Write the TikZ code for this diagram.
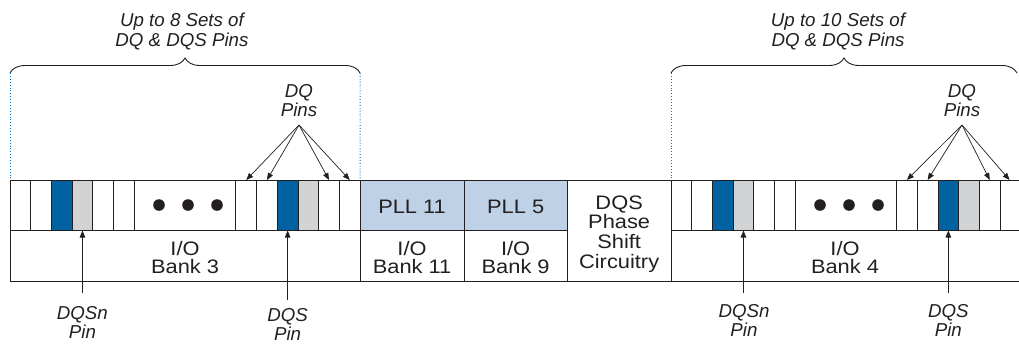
\documentclass[tikz,border=0pt]{standalone}
\usepackage{fontspec}
\setmainfont{Liberation Sans}
\newfontfamily\widesans[FakeStretch=1.12]{Liberation Sans}
\usetikzlibrary{arrows.meta,calc,decorations.pathreplacing}
\definecolor{dqsblue}{RGB}{0,98,160}
\definecolor{dqsngray}{RGB}{209,211,212}
\definecolor{pllblue}{RGB}{191,209,230}
\definecolor{guideblue}{RGB}{0,114,188}
\definecolor{inkgray}{RGB}{35,31,32}

\tikzset{
  wire/.style={draw=inkgray, line width=0.9pt},
  pincell/.style={wire, minimum width=20.7pt, minimum height=50.5pt, inner sep=0pt, outer sep=0pt, anchor=north west},
  dqscell/.style={pincell, fill=dqsblue},
  dqsncell/.style={pincell, fill=dqsngray},
  bankbox/.style={wire, minimum height=50.5pt, inner sep=0pt, outer sep=0pt, anchor=north west, align=center, text=inkgray, font=\widesans\fontsize{19.5}{18.5}\selectfont},
  iobox/.style={bankbox, text height=36.5pt},
  pllbox/.style={bankbox, fill=pllblue, text height=16pt},
  itext/.style={align=center, inner sep=1pt, text=inkgray, font=\fontsize{18.7}{19.5}\selectfont\itshape},
  pinarrow/.style={-{Triangle[length=7pt,width=5.5pt]}, draw=inkgray, line width=0.7pt},
  guide/.style={draw=guideblue, dotted, line width=0.9pt},
  setbrace/.style={draw=inkgray, line width=0.9pt, decorate, decoration={brace, amplitude=15pt}}
}

\begin{document}
\begin{tikzpicture}[x=1pt, y=-1pt]
  \useasboundingbox (0,0) rectangle (1019,343);

  % I/O bank 3
  \begin{scope}
    \foreach \i/\s in {0/pincell,1/pincell,2/dqscell,3/dqsncell,4/pincell,5/pincell} {
      \node[\s] (la\i) at ({10+\i*20.7},180) {};
      \node[\s] (lb\i) at ({235.9+\i*20.7},180) {};
    }
    \node[bankbox, minimum width=101.7pt] (ldots) at (134.2,180) {};
    \foreach \x in {159,188,217}
      \fill[inkgray] (\x,205) circle (5.8pt);
    \node[iobox, minimum width=350.1pt] (bank3) at (10,230.5) {I/O\\Bank 3};
  \end{scope}

  % PLLs and phase shift
  \begin{scope}
    \node[pllbox, minimum width=103.9pt] (pll11) at (360.1,180) {PLL 11};
    \node[pllbox, minimum width=103.3pt] (pll5) at (464,180) {PLL 5};
    \node[iobox, minimum width=103.9pt] (bank11) at (360.1,230.5) {I/O\\Bank 11};
    \node[iobox, minimum width=103.3pt] (bank9) at (464,230.5) {I/O\\Bank 9};
    \node[bankbox, minimum width=103.7pt, minimum height=101pt, text height=79.7pt,
      font=\widesans\fontsize{19.5}{19.7}\selectfont] (dqsps) at (567.3,180) {DQS\\Phase\\Shift\\Circuitry};
  \end{scope}

  % I/O bank 4
  \begin{scope}
    \foreach \i/\s in {0/pincell,1/pincell,2/dqscell,3/dqsncell,4/pincell,5/pincell}
      \node[\s] (ra\i) at ({671+\i*20.7},180) {};
    \foreach \i/\s in {0/pincell,1/pincell,2/dqscell,3/dqsncell,4/pincell}
      \node[\s] (rb\i) at ({896.6+\i*20.7},180) {};
    \node[pincell, draw=none, minimum width=18.9pt] (rb5) at (1000.1,180) {};
    \node[bankbox, minimum width=101.4pt] (rdots) at (795.2,180) {};
    \foreach \x in {820,849,878}
      \fill[inkgray] (\x,205) circle (5.8pt);
    \node[iobox, draw=none, minimum width=348pt] (bank4) at (671,230.5) {I/O\\Bank 4};
    \draw[wire] (rb4.north east) -- (rb5.north east);
    \draw[wire] (ra0.north west) -- (bank4.south west) -- (bank4.south east);
    \draw[wire] (bank4.north west) -- (bank4.north east);
  \end{scope}

  % braces
  \coordinate (lbrl) at (10,73);
  \coordinate (lbrr) at (360.1,73);
  \draw[setbrace] (lbrl) -- (lbrr);
  \draw[guide] (lbrl) -- (la0.north west);
  \draw[guide] (lbrr) -- (lb5.north east);
  \node[itext] (lsets) at (182,31.5) {Up to 8 Sets of\\DQ \& DQS Pins};

  \coordinate (rbrl) at (671,73);
  \coordinate (rbrr) at (1017,73);
  \draw[setbrace] (rbrl) -- (rbrr);
  \draw[guide] (rbrl) -- (ra0.north west);
  \node[itext] (rsets) at (838,31.5) {Up to 10 Sets of\\DQ \& DQS Pins};

  % DQ pins
  \node[itext] (ldqlab) at (299,100.5) {DQ\\Pins};
  \coordinate (ldq) at (299,125);
  \foreach \t in {lb0,lb1,lb4,lb5}
    \draw[pinarrow] (ldq) -- (\t.north);

  \node[itext] (rdqlab) at (962,100.5) {DQ\\Pins};
  \coordinate (rdq) at (962,125);
  \foreach \t in {rb0,rb1,rb4,rb5}
    \draw[pinarrow] (rdq) -- (\t.north);

  % DQS and DQSn pins
  \coordinate (lsn) at ($(la3.south)+(0,62.5)$);
  \draw[pinarrow] (lsn) -- (la3.south);
  \node[itext] (lsnlab) at (82.4,322.5) {DQSn\\Pin};

  \coordinate (ls) at ($(lb2.south)+(0,69.5)$);
  \draw[pinarrow] (ls) -- (lb2.south);
  \node[itext] (lslab) at (287.6,324.5) {DQS\\Pin};

  \coordinate (rsn) at ($(ra3.south)+(0,62.5)$);
  \draw[pinarrow] (rsn) -- (ra3.south);
  \node[itext] (rsnlab) at (744,320.5) {DQSn\\Pin};

  \coordinate (rs) at ($(rb2.south)+(0,62.5)$);
  \draw[pinarrow] (rs) -- (rb2.south);
  \node[itext] (rslab) at (948.3,320.5) {DQS\\Pin};
\end{tikzpicture}
\end{document}
